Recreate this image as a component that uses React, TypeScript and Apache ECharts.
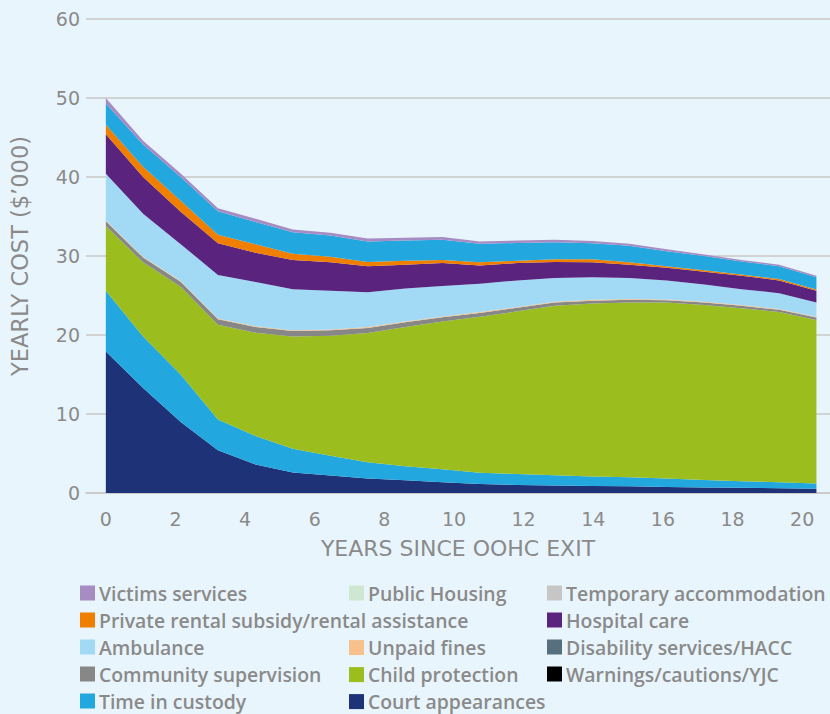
import React, { useEffect, useRef } from "react";
import * as echarts from "echarts";

// Years since OOHC exit (x positions of the data points)
const years = [0, 1.07, 2.15, 3.22, 4.3, 5.37, 6.45, 7.52, 8.6, 9.67, 10.74, 11.82, 12.89, 13.97, 15.04, 16.11, 17.19, 18.26, 19.34, 20.41];
const xTickLabels = [0, 2, 4, 6, 8, 10, 12, 14, 16, 18, 20];

// Yearly cost ($'000) per service, stacked bottom to top
const courtAppearances = [17.9, 13.3, 9.0, 5.4, 3.6, 2.6, 2.2, 1.85, 1.6, 1.35, 1.15, 1.0, 0.95, 0.9, 0.85, 0.75, 0.7, 0.65, 0.6, 0.55];
const timeInCustody = [7.7, 6.5, 6.0, 3.9, 3.6, 3.0, 2.5, 2.05, 1.8, 1.65, 1.4, 1.4, 1.3, 1.2, 1.15, 1.1, 0.95, 0.85, 0.75, 0.65];
const warningsCautionsYJC = [0, 0, 0, 0, 0, 0, 0, 0, 0, 0, 0, 0, 0, 0, 0, 0, 0, 0, 0, 0];
const childProtection = [8.2, 9.4, 11.1, 12.0, 13.1, 14.2, 15.2, 16.35, 17.6, 18.7, 19.75, 20.6, 21.45, 21.9, 22.1, 22.25, 22.15, 21.9, 21.55, 20.7];
const communitySupervision = [0.6, 0.6, 0.65, 0.7, 0.7, 0.7, 0.7, 0.65, 0.6, 0.55, 0.5, 0.45, 0.4, 0.35, 0.35, 0.3, 0.3, 0.3, 0.3, 0.3];
const disabilityServices = [0, 0, 0, 0, 0, 0, 0, 0, 0, 0, 0, 0, 0, 0, 0, 0, 0, 0, 0, 0];
const unpaidFines = [0.1, 0.1, 0.1, 0.1, 0.1, 0.1, 0.1, 0.1, 0.1, 0.1, 0.1, 0.1, 0.1, 0.1, 0.1, 0.1, 0.1, 0.1, 0.1, 0.1];
const ambulance = [5.9, 5.45, 4.65, 5.5, 5.6, 5.2, 4.9, 4.4, 4.2, 3.85, 3.6, 3.35, 3.0, 2.85, 2.65, 2.4, 2.2, 2.0, 2.0, 1.8];
const hospitalCare = [5.0, 4.65, 4.1, 4.0, 3.7, 3.7, 3.6, 3.3, 3.0, 2.9, 2.3, 2.2, 2.05, 1.9, 1.7, 1.6, 1.6, 1.7, 1.6, 1.5];
const privateRental = [1.2, 1.3, 1.4, 1.1, 1.1, 0.8, 0.7, 0.55, 0.5, 0.4, 0.4, 0.3, 0.35, 0.4, 0.3, 0.2, 0.2, 0.15, 0.2, 0.15];
const temporaryAccommodation = [0, 0, 0, 0, 0, 0, 0, 0, 0, 0, 0, 0, 0, 0, 0, 0, 0, 0, 0, 0];
const publicHousing = [0, 0, 0, 0, 0, 0, 0, 0, 0, 0, 0, 0, 0, 0, 0, 0, 0, 0, 0, 0];
const otherServices = [2.7, 2.8, 3.0, 2.95, 2.8, 2.7, 2.7, 2.6, 2.55, 2.55, 2.35, 2.25, 2.15, 2.0, 2.1, 1.9, 1.8, 1.65, 1.6, 1.55];
const victimsServices = [0.7, 0.5, 0.45, 0.4, 0.4, 0.35, 0.35, 0.35, 0.35, 0.35, 0.3, 0.3, 0.3, 0.3, 0.25, 0.25, 0.2, 0.2, 0.2, 0.2];

const seriesDefs: [string, number[], string][] = [
  ["Court appearances", courtAppearances, "#1d3277"],
  ["Time in custody", timeInCustody, "#22a8df"],
  ["Warnings/cautions/YJC", warningsCautionsYJC, "#000000"],
  ["Child protection", childProtection, "#9bbd1e"],
  ["Community supervision", communitySupervision, "#878787"],
  ["Disability services/HACC", disabilityServices, "#56707e"],
  ["Unpaid fines", unpaidFines, "#f8c08a"],
  ["Ambulance", ambulance, "#a2d9f5"],
  ["Hospital care", hospitalCare, "#5a237e"],
  ["Private rental subsidy/rental assistance", privateRental, "#f07f00"],
  ["Temporary accommodation", temporaryAccommodation, "#c6c6c6"],
  ["Public Housing", publicHousing, "#cfe6d1"],
  ["Other services", otherServices, "#22a8df"],
  ["Victims services", victimsServices, "#a78bc3"],
];

const legendCol1 = ["Victims services", "Private rental subsidy/rental assistance", "Ambulance", "Community supervision", "Time in custody"];
const legendCol2a = ["Public Housing"];
const legendCol2b = ["Unpaid fines", "Child protection", "Court appearances"];
const legendCol3 = ["Temporary accommodation", "Hospital care", "Disability services/HACC", "Warnings/cautions/YJC"];

const BG = "#e9f5fc";
const GREY = "#8a8a8a";

export default function App() {
  const ref = useRef<HTMLDivElement>(null);
  useEffect(() => {
    document.body.style.margin = "0";
    document.body.style.background = BG;
    const chart = echarts.init(ref.current!, null, { renderer: "svg" });
    const legendBase = {
      orient: "vertical" as const,
      icon: "rect",
      itemWidth: 15,
      itemHeight: 15,
      itemGap: 7,
      selectedMode: false,
      padding: 0,
      textStyle: { color: GREY, fontSize: 19.4, fontFamily: "Open Sans", fontWeight: 600, lineHeight: 20, padding: [0, 0, 0, -1] },
    };
    chart.setOption({
      animation: false,
      backgroundColor: BG,
      grid: { left: 82, right: 0, top: 19, bottom: 221 },
      xAxis: {
        type: "value",
        min: -0.57,
        max: 20.8,
        name: "YEARS SINCE OOHC EXIT",
        nameLocation: "middle",
        nameGap: 44,
        nameTextStyle: { color: GREY, fontSize: 22, fontFamily: "DejaVu Sans" },
        axisLine: { show: true, lineStyle: { color: "#c8c8c8", width: 1.5 } },
        axisTick: { show: false },
        splitLine: { show: false },
        axisLabel: {
          customValues: xTickLabels,
          color: GREY,
          fontSize: 19,
          fontFamily: "DejaVu Sans",
          margin: 16,
        },
      },
      yAxis: {
        type: "value",
        min: 0,
        max: 60,
        interval: 10,
        name: "YEARLY COST ($’000)",
        nameLocation: "middle",
        nameGap: 55,
        nameTextStyle: { color: GREY, fontSize: 22.5, fontFamily: "DejaVu Sans" },
        axisLine: { show: false },
        axisTick: { show: false },
        splitLine: { show: true, lineStyle: { color: "#c8c8c8", width: 1.5 } },
        axisLabel: { color: GREY, fontSize: 19, fontFamily: "DejaVu Sans", margin: 6 },
      },
      legend: [
        { ...legendBase, left: 80, top: 583, data: legendCol1 },
        { ...legendBase, left: 349, top: 583, data: legendCol2a },
        { ...legendBase, left: 349, top: 637.6, data: legendCol2b },
        { ...legendBase, left: 547, top: 583, data: legendCol3 },
      ],
      series: seriesDefs.map(([name, values, color]) => ({
        name,
        type: "line",
        stack: "total",
        // value first so that the y dimension is the one stacked
        data: years.map((x, i) => [values[i], x]),
        encode: { x: 1, y: 0 },
        showSymbol: false,
        symbol: "none",
        lineStyle: { width: 0 },
        itemStyle: { color },
        areaStyle: { color, opacity: 1 },
      })),
    });
    return () => chart.dispose();
  }, []);
  return <div ref={ref} style={{ width: 830, height: 714, background: BG }} />;
}
